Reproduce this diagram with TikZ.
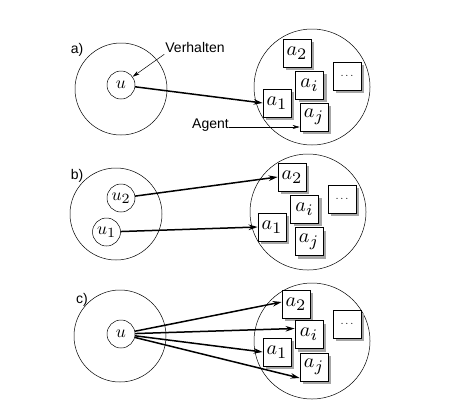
\RequirePackage{fix-cm}
\documentclass[tikz,border=0pt]{standalone}
\usepackage{fontspec}
\setsansfont{Liberation Sans}
\usetikzlibrary{shadows,arrows.meta}
\newcommand{\subsc}[1]{\scalebox{1.15}{$\scriptstyle #1$}}
\newcommand{\agtxt}[1]{\scalebox{2.0}{$a_{\subsc{#1}}$}}
\newcommand{\behtxt}[1]{\scalebox{1.75}{$u_{\subsc{#1}}$}}
\newcommand{\behplain}{\scalebox{1.75}{$u$}}
\begin{document}
\begin{tikzpicture}[x=1pt,y=-1pt,
  outer/.style={circle,draw,line width=0.5pt,minimum size=92pt,inner sep=0pt},
  pop/.style={circle,draw,line width=0.5pt,minimum size=116pt,inner sep=0pt},
  beh/.style={circle,draw,line width=0.5pt,minimum size=28pt,inner sep=0pt},
  agentbox/.style={rectangle,draw,line width=0.7pt,fill=white,minimum size=28pt,inner sep=0pt,
     drop shadow={shadow xshift=3pt,shadow yshift=-3pt,fill=black!35,opacity=1}},
  dotsbox/.style={agentbox,font=\fontsize{11}{12}\selectfont},
  lbl/.style={font=\sffamily\fontsize{14}{16}\selectfont,inner sep=0pt},
  thick arrow/.style={line width=1.5pt,-{Stealth[length=9pt,width=5.5pt]}},
  thin arrow/.style={line width=0.5pt,-{Stealth[length=7pt,width=4pt]}}]
\useasboundingbox (0,0) rectangle (449,410);

% ---------- a)
\node[lbl] (la) at (77,50) {a)};
\node[outer] (Ua) at (121,89) {};
\node[beh] (ua) at (121,85) {\behplain};
\node[pop] (Pa) at (312,87) {};
\node[agentbox] (a2a) at (297,53) {\agtxt{2}};
\node[agentbox] (aia) at (309.5,85) {\agtxt{i}};
\node[dotsbox] (ada) at (347,76) {$\dots$};
\node[agentbox] (a1a) at (277,103) {\agtxt{1}};
\node[agentbox] (aja) at (314,117) {\agtxt{j}};
\node[lbl] (verh) at (195,47) {Verhalten};
\node[lbl,anchor=base west] (agent) at (192,128) {Agent};
\draw[thin arrow] ([xshift=-1pt,yshift=-2pt]verh.south west) -- (ua);
\draw[thin arrow] ([yshift=1pt]agent.base east) -- ([yshift=1pt]agent.base east -| aja.west);
\draw[thick arrow] (ua) -- (a1a.west);

% ---------- b)
\node[lbl] (lb) at (77,176) {b)};
\node[outer] (Ub) at (116,214) {};
\node[beh] (u2b) at (121,198) {\behtxt{2}};
\node[beh] (u1b) at (106.5,232) {\behtxt{1}};
\node[pop] (Pb) at (308,212) {};
\node[agentbox] (a2b) at (292,177) {\agtxt{2}};
\node[agentbox] (aib) at (304.5,209) {\agtxt{i}};
\node[dotsbox] (adb) at (342,199) {$\dots$};
\node[agentbox] (a1b) at (272,227) {\agtxt{1}};
\node[agentbox] (ajb) at (309,241.5) {\agtxt{j}};
\draw[thick arrow] (u2b) -- (a2b.west);
\draw[thick arrow] (u1b) -- (a1b.west);

% ---------- c)
\node[lbl] (lc) at (82,300) {c)};
\node[outer] (Uc) at (120,336) {};
\node[beh] (uc) at (121,334) {\behplain};
\node[pop] (Pc) at (312,341) {};
\node[agentbox] (a2c) at (296,304) {\agtxt{2}};
\node[agentbox] (aic) at (309,334.5) {\agtxt{i}};
\node[dotsbox] (adc) at (347,324) {$\dots$};
\node[agentbox] (a1c) at (277,352) {\agtxt{1}};
\node[agentbox] (ajc) at (314,367) {\agtxt{j}};
\draw[thick arrow] (uc) -- ([yshift=2pt]a2c.west);
\draw[thick arrow] (uc) -- ([yshift=6pt]aic.west);
\draw[thick arrow] (uc) -- (a1c.west);
\draw[thick arrow] (uc) -- ([yshift=-11pt]ajc.west);
\end{tikzpicture}
\end{document}
